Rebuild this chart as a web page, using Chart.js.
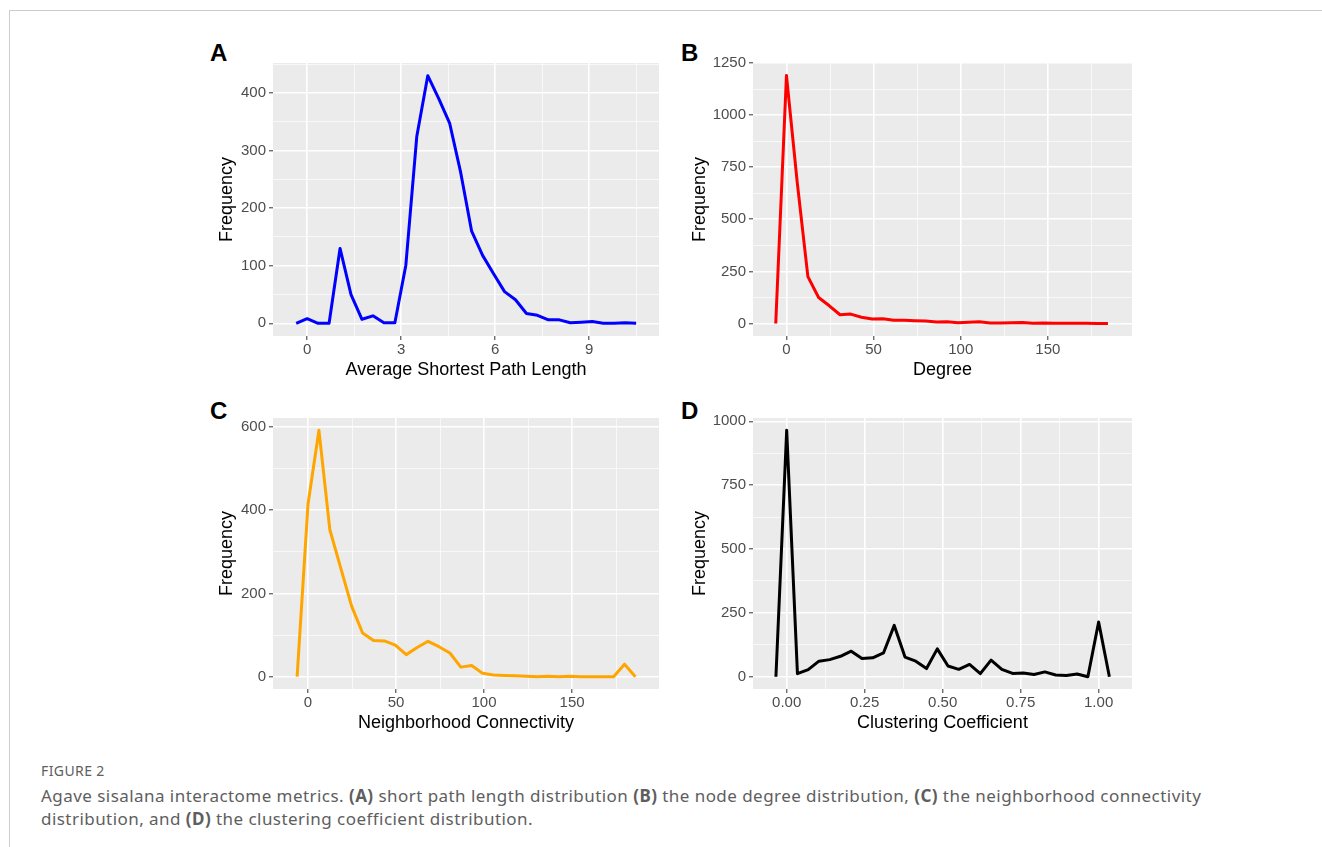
<!DOCTYPE html>
<html>
<head>
<meta charset="utf-8">
<title>Figure 2</title>
<script src="https://cdn.jsdelivr.net/npm/chart.js@4.4.0/dist/chart.umd.min.js"></script>
<style>
  body { margin: 0; background: #fff; width: 1322px; height: 847px; position: relative; overflow: hidden; }
  .frame { position: absolute; left: 9px; top: 10px; right: -2px; bottom: -2px; border-top: 1px solid #cccccc; border-left: 1px solid #cccccc; }
  .tag { position: absolute; font: bold 24px "Liberation Sans", Arial, sans-serif; line-height: 24px; color: #000; }
  .caption { position: absolute; left: 41px; top: 761px; white-space: nowrap; font-family: "Noto Sans", "Open Sans", sans-serif; color: #5e5e5e; }
  .caption .fig { font-size: 14px; line-height: 20px; letter-spacing: 0.4px; }
  .caption p { margin: 3px 0 0 0; font-size: 17px; line-height: 23px; letter-spacing: 0.45px; }
  .caption b { font-weight: 700; }
</style>
</head>
<body>
<div class="frame"></div>
<div class="tag" style="left:210px; top:41px;">A</div>
<div class="tag" style="left:681px; top:41px;">B</div>
<div class="tag" style="left:210px; top:399px;">C</div>
<div class="tag" style="left:681px; top:399px;">D</div>
<div class="caption">
  <div class="fig">FIGURE 2</div>
  <p>Agave sisalana interactome metrics. <b>(A)</b> short path length distribution <b>(B)</b> the node degree distribution, <b>(C)</b> the neighborhood connectivity<br>distribution, and <b>(D)</b> the clustering coefficient distribution.</p>
</div>

<script>
// A - average shortest path length (bin centres / counts)
const pathLenX = [-0.35, 0, 0.35, 0.7, 1.05, 1.4, 1.75, 2.1, 2.45, 2.8, 3.15, 3.5, 3.85, 4.2, 4.55, 4.9,
                  5.25, 5.6, 5.95, 6.3, 6.65, 7.0, 7.35, 7.7, 8.05, 8.4, 8.75, 9.1, 9.45, 9.8, 10.15, 10.5];
const pathLenFreq = [0, 8, 0, 0, 130, 50, 7, 13, 1, 1, 101, 325, 430, 390, 347, 262,
                     160, 118, 86, 55, 41, 17, 14, 6, 6, 1, 2, 3, 0, 0, 1, 0];

// B - degree
const degreeX = [-6.15, 0, 6.15, 12.3, 18.45, 24.6, 30.75, 36.9, 43.05, 49.2, 55.35, 61.5, 67.65, 73.8, 79.95, 86.1,
                 92.25, 98.4, 104.55, 110.7, 116.85, 123, 129.15, 135.3, 141.45, 147.6, 153.75, 159.9, 166.05, 172.2, 178.35, 184.5];
const degreeFreq = [0, 1190, 680, 225, 125, 85, 42, 45, 30, 22, 23, 16, 15, 13, 12, 7,
                    8, 4, 6, 8, 2, 2, 3, 5, 1, 2, 1, 1, 1, 1, 0, 0];

// C - neighborhood connectivity
const neighX = [-6.2, 0, 6.2, 12.4, 18.6, 24.8, 31, 37.2, 43.4, 49.6, 55.8, 62, 68.2, 74.4, 80.6, 86.8,
                93, 99.2, 105.4, 111.6, 117.8, 124, 130.2, 136.4, 142.6, 148.8, 155, 161.2, 167.4, 173.6, 179.8, 186];
const neighFreq = [0, 415, 592, 353, 261, 169, 105, 87, 86, 76, 53, 70, 85, 72, 57, 23,
                   27, 8, 4, 3, 2, 1, 0, 1, 0, 1, 0, 0, 0, 0, 30, 0];

// D - clustering coefficient
const clustX = [-0.0345, 0, 0.0345, 0.069, 0.1034, 0.1379, 0.1724, 0.2069, 0.2414, 0.2759, 0.3103, 0.3448, 0.3793, 0.4138, 0.4483, 0.4828,
                0.5172, 0.5517, 0.5862, 0.6207, 0.6552, 0.6897, 0.7241, 0.7586, 0.7931, 0.8276, 0.8621, 0.8966, 0.931, 0.9655, 1.0, 1.0345];
const clustFreq = [0, 965, 12, 28, 61, 67, 80, 100, 71, 74, 93, 201, 77, 61, 32, 109,
                   42, 29, 48, 12, 65, 29, 13, 15, 9, 19, 7, 5, 11, 0, 214, 0];

// tick labels (major) and minor grid positions
const pathLenTicks = [0, 3, 6, 9];
const pathLenMinor = [1.5, 4.5, 7.5, 10.5];
const pathFreqTicks = [0, 100, 200, 300, 400];
const pathFreqMinor = [50, 150, 250, 350, 450];

const degreeTicks = [0, 50, 100, 150];
const degreeMinor = [25, 75, 125, 175];
const degFreqTicks = [0, 250, 500, 750, 1000, 1250];
const degFreqMinor = [125, 375, 625, 875, 1125];

const neighTicks = [0, 50, 100, 150];
const neighMinor = [25, 75, 125, 175];
const neighFreqTicks = [0, 200, 400, 600];
const neighFreqMinor = [100, 300, 500];

const clustTicks = [0, 0.25, 0.5, 0.75, 1.0];
const clustMinor = [0.125, 0.375, 0.625, 0.875];
const clustFreqTicks = [0, 250, 500, 750, 1000];
const clustFreqMinor = [125, 375, 625, 875];

Chart.defaults.font.family = '"Liberation Sans", Arial, sans-serif';

const panelBg = {
  id: 'panelBg',
  beforeDraw(chart) {
    const a = chart.chartArea, c = chart.ctx;
    c.save();
    c.fillStyle = '#ebebeb';
    c.fillRect(a.left, a.top, a.right - a.left, a.bottom - a.top);
    c.restore();
  }
};

function isMajor(list, ctx) {
  return ctx.tick ? list.includes(ctx.tick.value) : false;
}

function gridFor(major) {
  return {
    color: ctx => isMajor(major, ctx) ? '#ffffff' : 'rgba(255,255,255,0.65)',
    lineWidth: ctx => isMajor(major, ctx) ? 1.6 : 1,
    tickColor: ctx => isMajor(major, ctx) ? '#333333' : 'rgba(0,0,0,0)',
    tickLength: 4,
    tickWidth: 1
  };
}

function makePanel(p) {
  const cv = document.createElement('canvas');
  const left = p.box[0] - p.yw, top = p.box[1] - 12;
  cv.width = p.box[2] + 4 - left;
  cv.height = p.box[3] + 45 - top;
  cv.style.position = 'absolute';
  cv.style.left = left + 'px';
  cv.style.top = top + 'px';
  document.body.appendChild(cv);

  const xAll = p.xMajor.concat(p.xMinor).sort((a, b) => a - b);
  const yAll = p.yMajor.concat(p.yMinor).sort((a, b) => a - b);

  new Chart(cv.getContext('2d'), {
    type: 'line',
    data: {
      datasets: [{
        data: p.xs.map((x, i) => ({ x: x, y: p.ys[i] })),
        borderColor: p.color,
        borderWidth: 3,
        borderJoinStyle: 'round',
        pointRadius: 0,
        tension: 0,
        fill: false
      }]
    },
    options: {
      responsive: false,
      animation: false,
      events: [],
      layout: { padding: { left: 0, top: 12, right: 4, bottom: 0 } },
      plugins: { legend: { display: false }, tooltip: { enabled: false } },
      scales: {
        x: {
          type: 'linear', min: p.xRange[0], max: p.xRange[1],
          border: { display: false },
          grid: gridFor(p.xMajor),
          afterBuildTicks: s => { s.ticks = xAll.map(v => ({ value: v })); },
          afterFit: s => { s.height = 45; },
          ticks: {
            autoSkip: false, maxRotation: 0, padding: 1, color: '#4d4d4d', font: { size: 15 },
            callback: v => p.xMajor.includes(v) ? p.xFmt(v) : ''
          },
          title: { display: true, text: p.xTitle, color: '#000', font: { size: 18 }, padding: 0 }
        },
        y: {
          type: 'linear', min: p.yRange[0], max: p.yRange[1],
          border: { display: false },
          grid: gridFor(p.yMajor),
          afterBuildTicks: s => { s.ticks = yAll.map(v => ({ value: v })); },
          afterFit: s => { s.width = p.yw; },
          ticks: {
            autoSkip: false, padding: 3, color: '#4d4d4d', font: { size: 15 },
            callback: v => p.yMajor.includes(v) ? String(v) : ''
          },
          title: { display: true, text: 'Frequency', color: '#000', font: { size: 18 }, padding: 0 }
        }
      }
    },
    plugins: [panelBg]
  });
}

makePanel({ box: [273, 63, 659, 336], yw: 57, xs: pathLenX, ys: pathLenFreq, color: '#0000ff',
  xMajor: pathLenTicks, xMinor: pathLenMinor, yMajor: pathFreqTicks, yMinor: pathFreqMinor,
  xRange: [-1.09, 11.23], yRange: [-22, 452], xTitle: 'Average Shortest Path Length', xFmt: v => String(v) });

makePanel({ box: [753, 63, 1132, 336], yw: 64, xs: degreeX, ys: degreeFreq, color: '#ff0000',
  xMajor: degreeTicks, xMinor: degreeMinor, yMajor: degFreqTicks, yMinor: degFreqMinor,
  xRange: [-19.2, 198.3], yRange: [-60, 1250], xTitle: 'Degree', xFmt: v => String(v) });

makePanel({ box: [273, 418, 659, 689], yw: 57, xs: neighX, ys: neighFreq, color: '#ffa500',
  xMajor: neighTicks, xMinor: neighMinor, yMajor: neighFreqTicks, yMinor: neighFreqMinor,
  xRange: [-19.9, 199.4], yRange: [-29.6, 621.6], xTitle: 'Neighborhood Connectivity', xFmt: v => String(v) });

makePanel({ box: [753, 418, 1132, 689], yw: 64, xs: clustX, ys: clustFreq, color: '#000000',
  xMajor: clustTicks, xMinor: clustMinor, yMajor: clustFreqTicks, yMinor: clustFreqMinor,
  xRange: [-0.108, 1.107], yRange: [-48, 1013], xTitle: 'Clustering Coefficient', xFmt: v => v.toFixed(2) });
</script>
</body>
</html>
